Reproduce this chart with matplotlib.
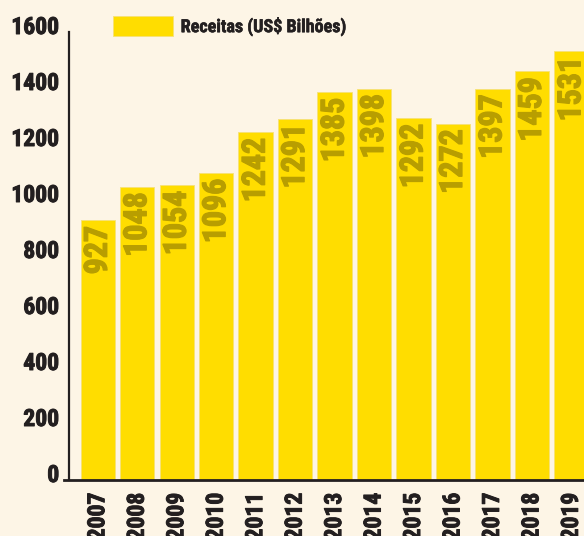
import matplotlib

matplotlib.use("Agg")

import matplotlib.patheffects as pe
import matplotlib.pyplot as plt
from matplotlib.patches import Patch
from matplotlib.transforms import ScaledTranslation

years = ["2007", "2008", "2009", "2010", "2011", "2012", "2013",
         "2014", "2015", "2016", "2017", "2018", "2019"]
revenue = [927, 1048, 1054, 1096, 1242, 1291, 1385, 1398, 1292, 1272, 1397, 1459, 1531]
y_ticks = [0, 200, 400, 600, 800, 1000, 1200, 1400, 1600]
legend_label = "Receitas (US$ Bilhões)"

BG = "#fdf5e6"
BAR = "#ffdd00"
VALUE = "#b89e00"
INK = "#231f20"
FONT = ["Roboto Condensed", "DejaVu Sans"]

plt.rcParams["font.family"] = FONT
plt.rcParams["font.weight"] = "bold"


def heavy(color, lw=0.7):
    # fake a "black" weight: thin outline in the text colour
    return [pe.withStroke(linewidth=lw, foreground=color)]


fig = plt.figure(figsize=(5.84, 5.36), dpi=100)
fig.patch.set_facecolor(BG)
ax = fig.add_axes([69 / 584, 56 / 536, 515 / 584, 448 / 536])
ax.set_facecolor(BG)

x = list(range(len(years)))
ax.bar(x, revenue, width=0.873, color=BAR, edgecolor="#f6e277", linewidth=0.6, zorder=2)

for xi, v in zip(x, revenue):
    ax.annotate(str(v), xy=(xi, v), xytext=(0, -4), textcoords="offset points",
                rotation=90, ha="center", va="top", fontsize=23,
                fontweight="bold", color=VALUE, zorder=3,
                path_effects=heavy(VALUE, 0.9))

ax.set_xlim(-0.73, 12.32)
ax.set_ylim(0, 1600)

ax.set_yticks(y_ticks)
ax.set_yticklabels([str(t) for t in y_ticks])
ax.set_xticks(x)
ax.set_xticklabels(years, rotation=90, va="top", ha="center")
ax.tick_params(axis="y", length=0, pad=7, labelsize=17, colors=INK)
ax.tick_params(axis="x", length=0, pad=9, labelsize=17, colors=INK)
shift = ScaledTranslation(0, 7 / 100, fig.dpi_scale_trans)
for lab in ax.get_yticklabels():
    lab.set_transform(lab.get_transform() + shift)
    lab.set_path_effects(heavy(INK))
for lab in ax.get_xticklabels():
    lab.set_path_effects(heavy(INK))

for side in ("top", "right"):
    ax.spines[side].set_visible(False)
ax.spines["left"].set_color(INK)
ax.spines["left"].set_linewidth(1.6)
ax.spines["bottom"].set_color(INK)
ax.spines["bottom"].set_linewidth(2.0)
ax.spines["bottom"].set_bounds(-0.857, 12.32)

leg = ax.legend(handles=[Patch(facecolor=BAR, edgecolor="#f6e277", linewidth=0.6, label=legend_label)],
                loc="upper left", bbox_to_anchor=(113 / 584, 1 - 16 / 536),
                bbox_transform=fig.transFigure, frameon=False, fontsize=13,
                handlelength=3.3, handleheight=1.35, handletextpad=0.45,
                borderpad=0, borderaxespad=0, labelcolor=INK)
for t in leg.get_texts():
    t.set_path_effects(heavy(INK, 0.4))

fig.savefig("out.png", facecolor=BG)
